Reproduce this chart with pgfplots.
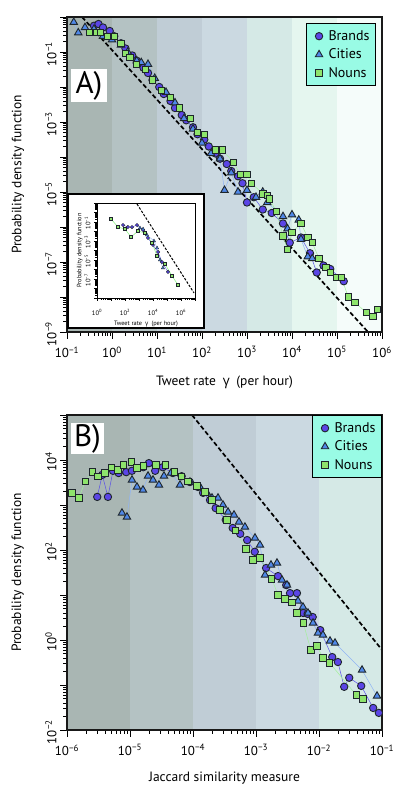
\documentclass[border=0pt]{standalone}
\usepackage{fontspec}
\setmainfont{PT Sans}
\newfontfamily\gfont{Open Sans}
\usepackage{pgfplots}
\usepackage{pgfplotstable}
\pgfplotsset{compat=1.18}

\definecolor{bandA}{HTML}{A9B6B3}
\definecolor{bandB}{HTML}{B4C2C3}
\definecolor{bandC}{HTML}{C0CDD6}
\definecolor{bandD}{HTML}{CBD9E1}
\definecolor{bandE}{HTML}{D5E9E6}
\definecolor{bandF}{HTML}{E5F6EF}
\definecolor{bandG}{HTML}{F5FCFA}
\definecolor{brandfill}{HTML}{5B45E6}
\definecolor{brandline}{HTML}{5A50E8}
\definecolor{cityfill}{HTML}{5088E8}
\definecolor{cityline}{HTML}{90B4F4}
\definecolor{nounfill}{HTML}{8EE46C}
\definecolor{nounline}{HTML}{A4F09C}
\definecolor{legfill}{HTML}{99FBE5}
\definecolor{edge}{HTML}{1E262C}

\newcommand{\tl}[1]{10\textsuperscript{#1}}

% ---------------- panel A data ----------------
\pgfplotstableread{
x y
0.398 0.562
0.501 0.631
0.631 0.501
0.891 0.398
1.122 0.282
1.585 0.178
1.995 0.126
2.818 0.0794
3.548 0.0562
5.012 0.0355
6.31 0.0251
7.943 0.0158
11.22 0.01
14.13 0.00631
19.95 0.00398
25.12 0.00251
35.48 0.00158
44.67 0.00112
63.1 7.08e-4
79.43 4.47e-4
112.2 3.16e-4
141.3 2.0e-4
199.5 1.26e-4
251.2 8.91e-5
354.8 6.31e-5
446.7 3.98e-5
631 2.82e-5
794.3 1.78e-5
1000 5.01e-6
1413 7.08e-6
2239 3.16e-6
3548 2.51e-6
6310 1.26e-6
8913 3.55e-7
15850 5.01e-7
25120 1.78e-7
35480 5.01e-8
50120 7.94e-8
70790 6.31e-8
141300 2.82e-8
}\brandsA

\pgfplotstableread{
x y
0.1413 0.708
0.178 0.355
0.251 0.501
0.398 0.447
0.631 0.282
1.0 0.224
1.585 0.158
2.239 0.1
3.548 0.0562
4.467 0.0501
6.31 0.0447
8.913 0.0178
15.85 0.00708
25.12 0.00355
39.81 0.00126
63.1 6.31e-4
100 2.51e-4
158.5 1.26e-4
251.2 8.91e-5
316.2 1.12e-5
446.7 3.55e-5
631 1.0e-5
1000 1.12e-5
1585 7.08e-6
2239 1.0e-5
2818 5.01e-6
6310 2.0e-6
7943 8.91e-7
10000 2.24e-6
14130 1.585e-6
15850 4.47e-7
22390 1.41e-7
28180 1.26e-7
}\citiesA

\pgfplotstableread{
x y
0.316 0.355
0.447 0.355
0.562 0.355
0.794 0.282
1.122 0.282
1.585 0.178
1.995 0.0891
2.512 0.0708
3.548 0.0447
5.623 0.0316
7.943 0.0158
12.59 0.00794
19.95 0.00501
31.62 0.00251
56.23 0.00126
79.43 5.01e-4
112.2 4.47e-4
199.5 1.585e-4
281.8 1.585e-4
501.2 7.08e-5
707.9 3.16e-5
1000 3.16e-5
1259 1.78e-5
2239 8.91e-6
2818 7.94e-6
3162 6.31e-6
4467 2.82e-6
6310 5.62e-7
7943 2.24e-7
10000 7.08e-7
15850 1.26e-6
22390 5.01e-7
28180 3.55e-7
39810 1.26e-7
56230 7.08e-8
70790 5.01e-8
100000 3.55e-8
125900 3.55e-8
177800 1.0e-8
251200 7.08e-9
446700 3.55e-9
631000 2.82e-9
794300 4.47e-9
}\nounsA

% ---------------- inset data ----------------
\pgfplotstableread{
x y
72.4 0.0479
162 0.0295
316 0.0295
724 0.0479
1950 0.0145
4365 2.09e-3
10000 3.80e-4
22900 6.92e-5
43650 6.17e-6
117500 5.50e-7
}\brandsI

\pgfplotstableread{
x y
1175 0.0234
1950 0.0182
3715 4.27e-3
11750 1e-3
19500 1.82e-4
31620 1e-5
51290 1.45e-6
}\citiesI

\pgfplotstableread{
x y
10 0.209
31.6 0.0295
100 0.0182
269 2.63e-3
851 0.0112
2692 6.92e-3
8511 6.17e-4
19500 2.63e-5
72440 3.80e-6
229100 2.09e-7
616600 2.34e-8
}\nounsI

% ---------------- panel B data ----------------
\pgfplotstableread{
x y
3.02e-6 1514
3.631e-6 4677
4.467e-6 1514
5.370e-6 5754
6.607e-6 5129
8.710e-6 5370
1.072e-5 5754
1.622e-5 6918
1.995e-5 8511
2.512e-5 5754
3.311e-5 6918
4.786e-5 5129
6.607e-5 4365
8.913e-5 3236
1.202e-4 2512
1.445e-4 1862
1.862e-4 1288
2.291e-4 851
3.311e-4 468
4.266e-4 309
5.623e-4 229
7.244e-4 166
9.550e-4 91.2
1.445e-3 39.8
2.239e-3 26.3
3.020e-3 16.6
3.467e-3 11.0
4.467e-3 11.0
5.623e-3 3.98
6.607e-3 3.80
7.943e-3 3.24
1.047e-2 1.66
1.622e-2 0.417
1.995e-2 0.324
2.512e-2 0.0912
3.020e-2 0.145
4.677e-2 0.0955
7.244e-2 0.0309
8.913e-2 0.0240
}\brandsB

\pgfplotstableread{
x y
7.46e-6 664
8.95e-6 541
1.076e-5 3597
1.291e-5 2512
1.607e-5 2154
1.932e-5 4406
2.317e-5 3597
2.884e-5 2782
3.467e-5 4406
4.477e-5 5140
6.22e-5 2782
8.95e-5 3246
1.291e-4 2512
1.667e-4 1848
2.004e-4 1432
2.495e-4 1432
2.992e-4 1000
3.597e-4 698
4.477e-4 600
5.37e-4 419
6.68e-4 324
9.64e-4 185
1.156e-3 129
1.39e-3 27.8
1.73e-3 46.4
2.154e-3 51.4
2.588e-3 21.5
3.105e-3 16.7
4.645e-3 7.36
5.57e-3 5.41
6.68e-3 3.98
8.04e-3 2.39
9.64e-3 1.43
1.156e-2 1.29
1.496e-2 0.950
1.795e-2 0.857
4.82e-2 0.215
8.34e-2 0.0570
}\citiesB

\pgfplotstableread{
x y
7.08e-7 2818
1.202e-6 1862
1.549e-6 1445
1.950e-6 3388
2.512e-6 5370
3.090e-6 4365
3.981e-6 5129
5.129e-6 6918
6.457e-6 6026
7.943e-6 7762
1.047e-5 9120
1.288e-5 6607
1.622e-5 7413
2.570e-5 7762
3.631e-5 7762
5.129e-5 5370
6.607e-5 4365
8.318e-5 3388
1.148e-4 2630
1.549e-4 1950
1.995e-4 1288
2.692e-4 776
3.467e-4 468
4.677e-4 275
6.918e-4 105
8.913e-4 60.3
1.156e-3 66.4
1.778e-3 22.9
2.239e-3 10
2.884e-3 8.13
3.715e-3 6.92
4.467e-3 3.98
5.623e-3 2.40
7.413e-3 0.603
9.333e-3 0.741
1.148e-2 0.398
1.479e-2 0.309
3.890e-2 0.0603
5.012e-2 0.0490
}\nounsB

\pgfplotsset{
  mypanel/.style={
    scale only axis, width=315pt, height=315pt,
    axis on top,
    axis line style={line width=1.3pt, black!90},
    tick align=outside, xtick pos=left, ytick pos=left,
    major tick length=7pt, minor tick length=4pt,
    tick style={black, line width=0.7pt},
    tick label style={font=\fontsize{13}{14}\selectfont},
    xticklabel style={yshift=-4pt},
    yticklabel style={rotate=90, anchor=south, xshift=-2pt},
    label style={font=\fontsize{13.5}{15}\selectfont},
    xlabel style={at={(axis description cs:0.5,-0.159)}, anchor=center},
    ylabel style={at={(axis description cs:-0.156,0.5)}, anchor=center},
    legend cell align=left,
    legend style={fill=legfill, draw=black, line width=1pt,
      font=\fontsize{14}{15}\selectfont, anchor=north east,
      inner xsep=3pt, inner ysep=5pt, row sep=3pt,
      nodes={inner xsep=3pt}},
  },
  myleg/.style={legend image code/.code={\draw[##1] plot coordinates {(0pt,0pt)}; \path (-9pt,0pt) (6pt,0pt);}},
  bmarks/.style={only marks, mark=*, mark size=3.7pt, mark options={fill=brandfill, draw=edge, line width=0.9pt}, myleg},
  cmarks/.style={only marks, mark=triangle*, mark size=4.3pt, mark options={fill=cityfill, draw=edge, line width=0.9pt}, myleg},
  nmarks/.style={only marks, mark=square*, mark size=3.2pt, mark options={fill=nounfill, draw=edge, line width=0.9pt}, myleg},
}

\begin{document}
\begin{tikzpicture}
\useasboundingbox (0,0) rectangle (399pt,797pt);

% ================= Panel A =================
\begin{axis}[xmode=log, ymode=log, mypanel, at={(67pt,465pt)}, anchor=south west,
  xmin=0.1, xmax=1e6, ymin=1e-9, ymax=1,
  xtick={0.1,1,10,100,1000,10000,100000,1000000},
  xticklabels={\tl{−1},\tl{0},\tl{1},\tl{2},\tl{3},\tl{4},\tl{5},\tl{6}},
  ytick={1e-9,1e-8,1e-7,1e-6,1e-5,1e-4,1e-3,1e-2,1e-1,1},
  yticklabels={\tl{−9},,\tl{−7},,\tl{−5},,\tl{−3},,\tl{−1},},
  xlabel={Tweet rate\enspace{\gfont γ}\enspace(per hour)},
  ylabel={Probability density function},
  legend style={at={(0.981,0.981)}},
]
\addplot[fill=bandA, draw=none, forget plot] coordinates {(0.1,1e-9) (1,1e-9) (1,1) (0.1,1)};
\addplot[fill=bandB, draw=none, forget plot] coordinates {(1,1e-9) (10,1e-9) (10,1) (1,1)};
\addplot[fill=bandC, draw=none, forget plot] coordinates {(10,1e-9) (100,1e-9) (100,1) (10,1)};
\addplot[fill=bandD, draw=none, forget plot] coordinates {(100,1e-9) (1000,1e-9) (1000,1) (100,1)};
\addplot[fill=bandE, draw=none, forget plot] coordinates {(1000,1e-9) (10000,1e-9) (10000,1) (1000,1)};
\addplot[fill=bandF, draw=none, forget plot] coordinates {(10000,1e-9) (100000,1e-9) (100000,1) (10000,1)};
\addplot[fill=bandG, draw=none, forget plot] coordinates {(100000,1e-9) (1000000,1e-9) (1000000,1) (100000,1)};
\addplot[black, line width=1.7pt, dash pattern=on 4.5pt off 2.5pt, forget plot] coordinates {(0.2154,1) (488700,1e-9)};
\addplot[brandline, line width=0.5pt, forget plot] table {\brandsA};
\addplot[cityline, line width=0.5pt, forget plot] table {\citiesA};
\addplot[nounline, line width=0.5pt, forget plot] table {\nounsA};
\addplot[bmarks] table {\brandsA};
\addplot[cmarks] table {\citiesA};
\addplot[nmarks] table {\nounsA};
\legend{Brands, Cities, Nouns}
\end{axis}

% inset frame
\draw[fill=white, line width=1.3pt] (68pt,469pt) rectangle (204pt,603pt);

\begin{axis}[xmode=log, ymode=log, scale only axis, width=98pt, height=95pt, at={(97pt,499pt)}, anchor=south west,
  xmin=1, xmax=1e7, ymin=1e-9, ymax=10,
  axis line style={line width=0.8pt},
  tick align=outside, xtick pos=left, ytick pos=left,
  major tick length=3pt, minor tick length=1.8pt,
  tick style={black, line width=0.4pt},
  xtick={1,10,100,1e3,1e4,1e5,1e6,1e7},
  xticklabels={\tl{0},,\tl{2},,\tl{4},,\tl{6},},
  ytick={1e-9,1e-8,1e-7,1e-6,1e-5,1e-4,1e-3,1e-2,1e-1,1,10},
  yticklabels={,,\tl{−7},,\tl{−5},,\tl{−3},,\tl{−1},,},
  tick label style={font=\fontsize{6.5}{7}\selectfont},
  xticklabel style={yshift=-5pt},
  yticklabel style={rotate=90, anchor=south, xshift=-1pt},
  label style={font=\fontsize{6.3}{7}\selectfont},
  xlabel={Tweet rate\enspace{\gfont γ}\enspace(per hour)},
  ylabel={Probability density function},
  xlabel style={at={(axis description cs:0.5,-0.27)}, anchor=center},
  ylabel style={at={(axis description cs:-0.175,0.5)}, anchor=center},
]
\addplot[black, line width=1pt, dash pattern=on 2.5pt off 1.5pt] coordinates {(724,7.76) (8.51e6,3.39e-9)};
\addplot[brandline, line width=0.4pt] table {\brandsI};
\addplot[cityline, line width=0.4pt] table {\citiesI};
\addplot[nounline!80!green, line width=0.5pt] table {\nounsI};
\addplot[only marks, mark=*, mark size=1.7pt, mark options={fill=brandfill, draw=edge, line width=0.4pt}] table {\brandsI};
\addplot[only marks, mark=triangle*, mark size=1.9pt, mark options={fill=cityfill, draw=edge, line width=0.4pt}] table {\citiesI};
\addplot[only marks, mark=square*, mark size=1.4pt, mark options={fill=nounfill, draw=edge, line width=0.5pt}] table {\nounsI};
\end{axis}

% panel label A
\fill[white] (71pt,695pt) rectangle (107pt,728pt);
\node at (89pt,711.5pt) {\fontsize{31}{31}\selectfont A)};

% ================= Panel B =================
\begin{axis}[xmode=log, ymode=log, mypanel, at={(67pt,67pt)}, anchor=south west,
  xmin=1e-6, xmax=0.1, ymin=0.01, ymax=1e5,
  xtick={1e-6,1e-5,1e-4,1e-3,1e-2,1e-1},
  xticklabels={\tl{−6},\tl{−5},\tl{−4},\tl{−3},\tl{−2},\tl{−1}},
  ytick={1e-2,1e-1,1,10,100,1e3,1e4,1e5},
  yticklabels={\tl{−2},,\tl{0},,\tl{2},,\tl{4},},
  xlabel={Jaccard similarity measure},
  ylabel={Probability density function},
  xlabel style={at={(axis description cs:0.5,-0.152)}, anchor=center},
  legend style={at={(1,1)}},
]
\addplot[fill=bandA, draw=none, forget plot] coordinates {(1e-6,0.01) (1e-5,0.01) (1e-5,1e5) (1e-6,1e5)};
\addplot[fill=bandB, draw=none, forget plot] coordinates {(1e-5,0.01) (1e-4,0.01) (1e-4,1e5) (1e-5,1e5)};
\addplot[fill=bandC, draw=none, forget plot] coordinates {(1e-4,0.01) (1e-3,0.01) (1e-3,1e5) (1e-4,1e5)};
\addplot[fill=bandD, draw=none, forget plot] coordinates {(1e-3,0.01) (1e-2,0.01) (1e-2,1e5) (1e-3,1e5)};
\addplot[fill=bandE, draw=none, forget plot] coordinates {(1e-2,0.01) (1e-1,0.01) (1e-1,1e5) (1e-2,1e5)};
\addplot[black, line width=1.7pt, dash pattern=on 4.5pt off 2.5pt, forget plot] coordinates {(9.64e-5,1e5) (0.1,0.603)};
\addplot[brandline, line width=0.5pt, forget plot] table {\brandsB};
\addplot[cityline, line width=0.5pt, forget plot] table {\citiesB};
\addplot[nounline, line width=0.5pt, forget plot] table {\nounsB};
\addplot[bmarks] table {\brandsB};
\addplot[cmarks] table {\citiesB};
\addplot[nmarks] table {\nounsB};
\legend{Brands, Cities, Nouns}
\end{axis}

% panel label B
\fill[white] (71pt,343pt) rectangle (104pt,374pt);
\node at (87.5pt,358.5pt) {\fontsize{31}{31}\selectfont B)};
\end{tikzpicture}
\end{document}
